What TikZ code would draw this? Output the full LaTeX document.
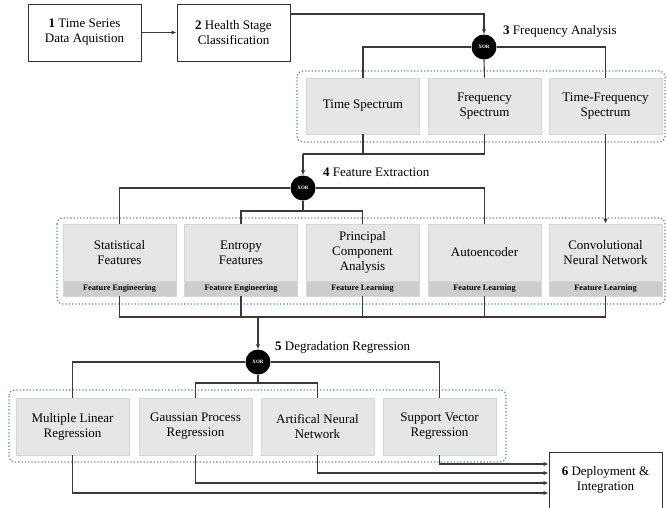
\documentclass[tikz,border=0pt]{standalone}
\usepackage{fontspec}
\setmainfont{Liberation Serif}
\usetikzlibrary{arrows.meta}
\definecolor{boxfill}{HTML}{E6E6E6}
\definecolor{bandfill}{HTML}{CDCDCD}
\definecolor{boxline}{HTML}{D6D6D6}
\definecolor{grpline}{HTML}{6F86A6}
\definecolor{wirec}{HTML}{3A3A3A}
\begin{document}
\begin{tikzpicture}[x=1pt,y=-1pt,
  font=\fontsize{13}{15}\selectfont,
  proc/.style={draw=black!80, line width=1pt, fill=white, minimum width=113pt, minimum height=57pt, align=center, inner sep=2pt},
  opt/.style={fill=boxfill, draw=boxline, line width=0.6pt, minimum width=113pt, minimum height=56pt, align=center, inner sep=2pt},
  band/.style={fill=bandfill, draw=boxline, line width=0.6pt, minimum width=113pt, minimum height=15pt, inner sep=0pt, font=\fontsize{8.3}{9}\selectfont\bfseries},
  xor/.style={circle, fill=black, minimum size=25pt, inner sep=0pt, text=white, font=\fontsize{5}{6}\selectfont\bfseries},
  grp/.style={draw=grpline, line width=1.2pt, dash pattern=on 1.3pt off 2pt, rounded corners=6pt},
  wire/.style={draw=wirec, line width=1.1pt},
  arr/.style={wire, -{Latex[length=5pt,width=4.5pt]}},
  lbl/.style={anchor=west, inner sep=0pt}
]
\useasboundingbox (0,0) rectangle (667,507);

% groups
\draw[grp] (297,71) rectangle (665,142);
\draw[grp] (57,218) rectangle (665,304);
\draw[grp] (9,390) rectangle (506,462);

% top process boxes
\node[proc] (b1) at (84.5,32.5) {\textbf{1} Time Series\\Data Aquistion};
\node[proc] (b2) at (233.5,32.5) {\textbf{2} Health Stage\\Classification};

% XOR gates
\node[xor] (xor3) at (484,47) {XOR};
\node[xor] (xor4) at (303,188) {XOR};
\node[xor] (xor5) at (258,362) {XOR};

% labels
\node[lbl] (l3) at (503,31) {\textbf{3} Frequency Analysis};
\node[lbl] (l4) at (323,172) {\textbf{4} Feature Extraction};
\node[lbl] (l5) at (275,347) {\textbf{5} Degradation Regression};

% spectra
\node[opt] (s1) at (363,106) {Time Spectrum};
\node[opt] (s2) at (484.5,106) {Frequency\\Spectrum};
\node[opt] (s3) at (605.5,106) {Time-Frequency\\Spectrum};

% features
\node[opt, minimum height=57pt] (f1) at (119.5,252.5) {Statistical\\Features};
\node[band] (f1b) at (119.5,288.5) {Feature Engineering};
\node[opt, minimum height=57pt] (f2) at (241,252.5) {Entropy\\Features};
\node[band] (f2b) at (241,288.5) {Feature Engineering};
\node[opt, minimum height=57pt] (f3) at (362.5,252.5) {Principal\\Component\\Analysis};
\node[band] (f3b) at (362.5,288.5) {Feature Learning};
\node[opt, minimum height=57pt] (f4) at (484.5,252.5) {Autoencoder};
\node[band] (f4b) at (484.5,288.5) {Feature Learning};
\node[opt, minimum height=57pt] (f5) at (605.5,252.5) {Convolutional\\Neural Network};
\node[band] (f5b) at (605.5,288.5) {Feature Learning};

% regressions
\node[opt, minimum height=57pt] (r1) at (72.5,426.5) {Multiple Linear\\Regression};
\node[opt, minimum height=57pt] (r2) at (195.5,426.5) {Gaussian Process\\Regression};
\node[opt, minimum height=57pt] (r3) at (317.5,426.5) {Artifical Neural\\Network};
\node[opt, minimum height=57pt] (r4) at (439.5,426.5) {Support Vector\\Regression};

% deployment
\node[proc, minimum height=56pt] (d6) at (605.5,480) {\textbf{6} Deployment \&\\Integration};

% junction coordinates
\coordinate (c4) at (303,154);
\coordinate (t4) at (303,211);
\coordinate (c5) at (258,317);
\coordinate (t5) at (258,383);

% wires: top
\draw[arr] (b1.east) -- (b2.west);
\draw[arr] ([yshift=18.5pt]b2.east) -| (xor3.north);

% XOR3 branches
\draw[wire] (xor3.west) -| (s1.north);
\draw[wire] (xor3.east) -| (s3.north);
\draw[wire] (xor3.south) -- (s2.north);

% spectra to XOR4
\draw[wire] (s2.south) |- (c4);
\draw[wire] (s1.south) -- (s1.south |- c4);
\draw[arr] (c4) -- (xor4.north);
\draw[arr] (s3.south) -- (f5.north);

% XOR4 branches
\draw[wire] (xor4.west) -| (f1.north);
\draw[wire] (xor4.east) -| (f4.north);
\draw[wire] (xor4.south) -- (t4);
\draw[wire] (f2.north) |- (t4) -| (f3.north);

% features to XOR5
\draw[wire] (f1b.south) |- (c5) -| (f5b.south);
\draw[wire] (f2b.south) -- (f2b.south |- c5);
\draw[wire] (f3b.south) -- (f3b.south |- c5);
\draw[wire] (f4b.south) -- (f4b.south |- c5);
\draw[arr] (c5) -- (xor5.north);

% XOR5 branches
\draw[wire] (xor5.west) -| (r1.north);
\draw[wire] (xor5.east) -| (r4.north);
\draw[wire] (xor5.south) -- (t5);
\draw[wire] (r2.north) |- (t5) -| (r3.north);

% regressions to deployment
\draw[arr] (r4.south) |- ([yshift=16pt]d6.west);
\draw[arr] (r3.south) |- ([yshift=7pt]d6.west);
\draw[arr] (r2.south) |- ([yshift=-3pt]d6.west);
\draw[arr] (r1.south) |- ([yshift=-13pt]d6.west);
\end{tikzpicture}
\end{document}
